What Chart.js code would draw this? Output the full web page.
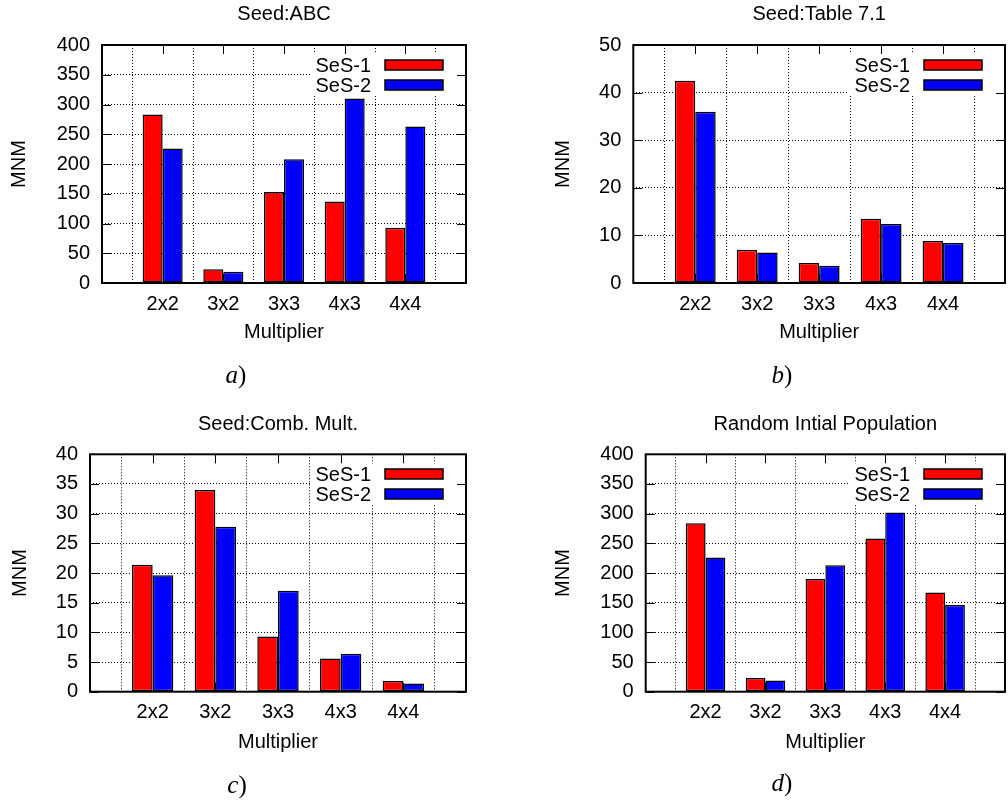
<!DOCTYPE html>
<html>
<head>
<meta charset="utf-8">
<script src="https://cdn.jsdelivr.net/npm/chart.js@4"></script>
<style>
  html, body { margin: 0; padding: 0; background: #fff; overflow: hidden; width: 1008px; height: 802px; }
  canvas { position: absolute; }
  .cap { position: absolute; font-family: "Liberation Serif", "DejaVu Serif", serif; font-size: 25px; line-height: 25px; transform: translateX(-50%); white-space: nowrap; }
  .cap i { font-style: italic; }
</style>
</head>
<body>
<canvas id="chA" width="504" height="400" style="left:0;top:0"></canvas>
<canvas id="chB" width="510" height="400" style="left:504px;top:0"></canvas>
<canvas id="chC" width="504" height="402" style="left:0;top:400px"></canvas>
<canvas id="chD" width="510" height="402" style="left:504px;top:400px"></canvas>
<div class="cap" style="left:236px;top:362px"><i>a</i>)</div>
<div class="cap" style="left:782px;top:362px"><i>b</i>)</div>
<div class="cap" style="left:237px;top:772px"><i>c</i>)</div>
<div class="cap" style="left:782px;top:770px"><i>d</i>)</div>
<script>
// valores
const multipliers = ['2x2', '3x2', '3x3', '4x3', '4x4'];
const seriesNames = ['SeS-1', 'SeS-2'];

const abcSes1 = [283, 23, 153, 137, 93];
const abcSes2 = [226, 19, 208, 310, 263];

const tableSes1 = [42.5, 7.0, 4.2, 13.5, 8.8];
const tableSes2 = [36.0, 6.4, 3.6, 12.4, 8.4];

const combSes1 = [21.4, 34.0, 9.3, 5.6, 1.8];
const combSes2 = [19.6, 27.8, 17.0, 6.4, 1.4];

const randSes1 = [284, 23, 190, 258, 167];
const randSes2 = [226, 19, 213, 302, 146];

const FONT = '"Liberation Sans", Arial, Helvetica, sans-serif';

// moldura, ticks espelhados e legenda dentro da area
const frame = {
  id: 'frame',
  afterDatasetsDraw(chart) {
    const ctx = chart.ctx, a = chart.chartArea;
    ctx.save();
    ctx.fillStyle = '#fff';
    ctx.fillRect(a.right - 156, a.top + 9, 156, 41);
    ctx.font = '20px ' + FONT;
    ctx.textAlign = 'right';
    ctx.textBaseline = 'middle';
    chart.data.datasets.forEach((ds, i) => {
      const cy = Math.round(a.top + 19.5 + i * 20);
      ctx.fillStyle = '#000';
      ctx.fillText(ds.label, a.right - 95, cy + 1);
      ctx.fillStyle = ds.backgroundColor;
      ctx.fillRect(Math.round(a.right - 81), cy - 5, 58, 10);
      ctx.strokeStyle = '#000';
      ctx.lineWidth = 1.5;
      ctx.strokeRect(Math.round(a.right - 81), cy - 5, 58, 10);
    });
    ctx.restore();
  },
  afterDraw(chart) {
    const ctx = chart.ctx, a = chart.chartArea;
    const xs = chart.scales.x, ys = chart.scales.y;
    ctx.save();
    ctx.strokeStyle = '#000';
    ctx.lineWidth = 1;
    ctx.beginPath();
    ys.ticks.forEach(t => {
      const y = Math.round(ys.getPixelForValue(t.value)) + 0.5;
      ctx.moveTo(a.left, y); ctx.lineTo(a.left + 9, y);
      ctx.moveTo(a.right - 9, y); ctx.lineTo(a.right, y);
    });
    for (let i = 1; i < xs.ticks.length - 1; i++) {
      const x = Math.round(xs.getPixelForTick(i)) + 0.5;
      ctx.moveTo(x, a.bottom); ctx.lineTo(x, a.bottom - 9);
      ctx.moveTo(x, a.top); ctx.lineTo(x, a.top + 9);
    }
    ctx.stroke();
    ctx.lineWidth = 2;
    ctx.strokeRect(a.left, a.top, a.right - a.left, a.bottom - a.top);
    ctx.restore();
  }
};

function criarPainel(id, p) {
  const cv = document.getElementById(id);
  const W = cv.width, H = cv.height;
  const padL = p.yTitleX - p.cx - 19.5;
  const yWidth = p.left - p.cx - padL;
  const padR = W - (p.right - p.cx);
  const titleH = p.top - p.cy;
  const titleTop = p.titleY - p.cy - 12;
  const xHeight = p.xTitleY + 13 - p.bottom;
  const padB = H - (p.bottom - p.cy) - xHeight;
  const labels = ['', ...multipliers, ''];

  return new Chart(cv.getContext('2d'), {
    type: 'bar',
    data: {
      labels: labels,
      datasets: [
        { label: seriesNames[0], data: [null, ...p.s1, null], backgroundColor: '#ff0000', borderColor: '#000', borderWidth: 1.5, borderSkipped: false },
        { label: seriesNames[1], data: [null, ...p.s2, null], backgroundColor: '#0000ff', borderColor: '#000', borderWidth: 1.5, borderSkipped: false }
      ]
    },
    options: {
      responsive: false,
      animation: false,
      devicePixelRatio: 1,
      layout: { padding: { left: padL, right: padR, top: 0, bottom: padB } },
      datasets: { bar: { categoryPercentage: 0.66, barPercentage: 1.0 } },
      plugins: {
        legend: { display: false },
        tooltip: { enabled: false },
        title: {
          display: true, text: p.title, fullSize: false, color: '#000',
          font: { family: FONT, size: 20, weight: 'normal', lineHeight: 1.2 },
          padding: { top: titleTop, bottom: titleH - 24 - titleTop }
        }
      },
      scales: {
        x: {
          type: 'category', offset: false,
          grid: { color: '#000', lineWidth: 1, drawTicks: false },
          border: { display: false, dash: [1, 2] },
          ticks: { color: '#000', padding: 9, autoSkip: false, maxRotation: 0, font: { family: FONT, size: 20 } },
          title: { display: true, text: 'Multiplier', color: '#000', padding: { top: 0, bottom: 1 }, font: { family: FONT, size: 20, lineHeight: 1.2 } },
          afterFit: s => { s.height = xHeight; }
        },
        y: {
          min: 0, max: p.max,
          grid: { color: '#000', lineWidth: 1, drawTicks: false },
          border: { display: false, dash: [1, 2] },
          ticks: { stepSize: p.step, color: '#000', padding: 12, font: { family: FONT, size: 20 } },
          title: { display: true, text: 'MNM', color: '#000', padding: { top: 7.5, bottom: 0 }, font: { family: FONT, size: 20, lineHeight: 1.2 } },
          afterFit: s => { s.width = yWidth; }
        }
      }
    },
    plugins: [frame]
  });
}

criarPainel('chA', { cx: 0, cy: 0, left: 102, right: 466, top: 45, bottom: 283, yTitleX: 19.5, xTitleY: 332, titleY: 14,
  title: 'Seed:ABC', s1: abcSes1, s2: abcSes2, max: 400, step: 50 });
criarPainel('chB', { cx: 504, cy: 0, left: 633.3, right: 1009, top: 45, bottom: 283, yTitleX: 563, xTitleY: 332, titleY: 14,
  title: 'Seed:Table 7.1', s1: tableSes1, s2: tableSes2, max: 50, step: 10 });
criarPainel('chC', { cx: 0, cy: 400, left: 90, right: 466, top: 454.3, bottom: 691.7, yTitleX: 20.5, xTitleY: 742.5, titleY: 424.5,
  title: 'Seed:Comb. Mult.', s1: combSes1, s2: combSes2, max: 40, step: 5 });
criarPainel('chD', { cx: 504, cy: 400, left: 645.7, right: 1010, top: 454.3, bottom: 691.7, yTitleX: 563, xTitleY: 742.5, titleY: 424.5,
  title: 'Random Intial Population', s1: randSes1, s2: randSes2, max: 400, step: 50 });
</script>
</body>
</html>
